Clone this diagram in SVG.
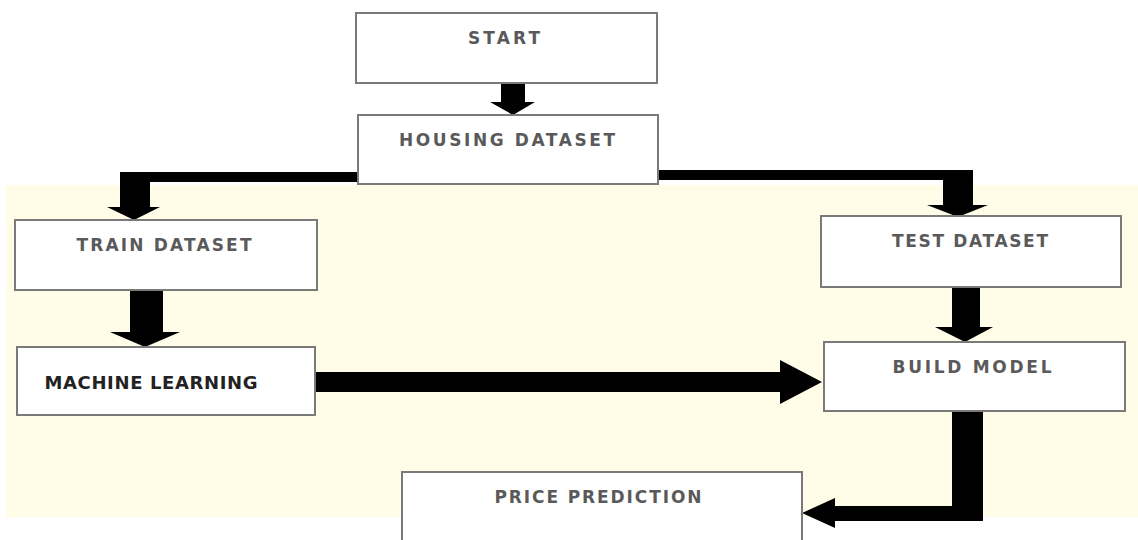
<svg xmlns="http://www.w3.org/2000/svg" width="1138" height="540" viewBox="0 0 1138 540">
<style>
.box{fill:#ffffff;stroke:#7a7a7a;stroke-width:2}
.lbl{font-family:"DejaVu Sans",sans-serif;font-weight:bold;font-size:17px;fill:#5a5a5a;text-anchor:middle}
.lbl2{font-family:"DejaVu Sans",sans-serif;font-weight:bold;font-size:18px;fill:#222;text-anchor:middle}
.conn{fill:#000}
</style>
<rect x="0" y="0" width="1138" height="540" fill="#ffffff"/>
<rect x="6" y="185" width="1132" height="332" fill="#fffde8"/>
<g id="connectors">
<path class="conn" d="M501,83 H525 V102 H535 L513,115 L490,102 H501 Z"/>
<path class="conn" d="M358,172 H120 V207 H107 L134,220 L160,207 H150 V182 H358 Z"/>
<path class="conn" d="M658,170 H973 V205 H988 L958,217 L927,205 H943 V180 H658 Z"/>
<path class="conn" d="M130,290 H163 V332 H180 L145,347 L110,332 H130 Z"/>
<path class="conn" d="M315,372 H780 V360 L822,382 L780,404 V392 H315 Z"/>
<path class="conn" d="M952,287 H980 V327 H993 L965,342 L935,327 H952 Z"/>
<path class="conn" d="M952,411 H983 V521 H835 V528 L802,513 L835,498 V506 H952 Z"/>
</g>
<g id="start"><rect class="box" x="356" y="13" width="301" height="70"/><text class="lbl" x="504" y="44" textLength="72" lengthAdjust="spacing">START</text></g>
<g id="housing"><rect class="box" x="358" y="115" width="300" height="69"/><text class="lbl" x="507" y="146" textLength="216" lengthAdjust="spacing">HOUSING DATASET</text></g>
<g id="train"><rect class="box" x="15" y="220" width="302" height="70"/><text class="lbl" x="164" y="251" textLength="175" lengthAdjust="spacing">TRAIN DATASET</text></g>
<g id="ml"><rect class="box" x="17" y="347" width="298" height="68"/><text class="lbl2" x="151" y="389" textLength="213" lengthAdjust="spacing">MACHINE LEARNING</text></g>
<g id="test"><rect class="box" x="821" y="216" width="300" height="71"/><text class="lbl" x="970" y="247" textLength="156" lengthAdjust="spacing">TEST DATASET</text></g>
<g id="build"><rect class="box" x="824" y="342" width="301" height="69"/><text class="lbl" x="972" y="373" textLength="159" lengthAdjust="spacing">BUILD MODEL</text></g>
<g id="price"><rect class="box" x="402" y="472" width="400" height="75"/><text class="lbl" x="598" y="503" textLength="207" lengthAdjust="spacing">PRICE PREDICTION</text></g>
</svg>
